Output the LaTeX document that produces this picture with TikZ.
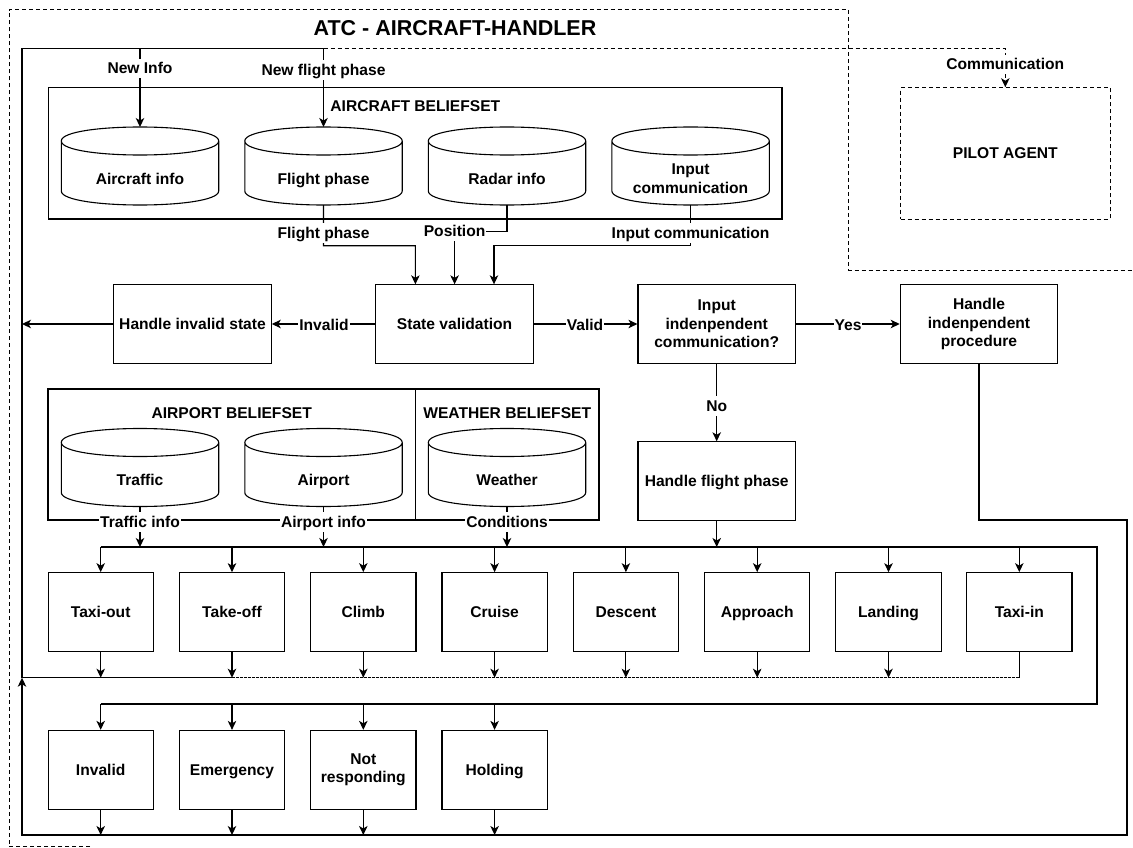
\documentclass[tikz,border=0pt]{standalone}
\usepackage{fontspec}
\setmainfont{Liberation Sans}
\usetikzlibrary{arrows.meta,calc}
\newcommand\lblfont{\fontsize{15.6}{18.7}\selectfont\bfseries}
\newcommand\dbcyl[1]{%
  \coordinate (#1-top) at ([shift={(0,-52)}]#1.center);
  \coordinate (#1-bot) at ([shift={(0,26)}]#1.center);
  \draw[ln] ([shift={(-78.7,-38)}]#1.center) -- ([shift={(-78.7,12)}]#1.center)
     .. controls +(0,18.67) and +(0,18.67) .. ([shift={(78.7,12)}]#1.center)
     -- ([shift={(78.7,-38)}]#1.center)
     .. controls +(0,-18.67) and +(0,-18.67) .. ([shift={(-78.7,-38)}]#1.center)
     .. controls +(0,18.67) and +(0,18.67) .. ([shift={(78.7,-38)}]#1.center);
}
\begin{document}
\begin{tikzpicture}[x=1pt,y=-1pt,
  ln/.style={line width=1.1pt},
  bus/.style={line width=2pt},
  dsh/.style={line width=1pt, dash pattern=on 4pt off 3pt},
  tip/.style={-{Stealth[length=9pt,width=8.5pt,inset=2.5pt]}},
  arr/.style={ln, tip},
  one/.style={text height=14.1pt, text depth=3.3pt},
  procbox/.style={draw, line width=1.1pt, minimum width=157.5pt, minimum height=78.3pt, align=center, inner sep=1pt, font=\lblfont},
  phasebox/.style={procbox, minimum width=105.3pt, minimum height=79pt},
  setbox/.style={draw, line width=1.1pt, inner sep=0pt},
  hdr/.style={font=\lblfont, inner sep=0pt, one},
  lab/.style={fill=white, font=\lblfont, inner sep=1pt, one},
  cyltext/.style={font=\lblfont, align=center, inner sep=0pt},
]
\useasboundingbox (0,0) rectangle (1133,848);

% outer dashed frame
\draw[dsh] (90,846.5) -- (9,846.5) -- (9,10) -- (848,10) -- (848,270) -- (1133,270);
\node[font=\fontsize{21.5}{25}\selectfont\bfseries, inner sep=0pt] (title) at (455,28.5) {ATC - AIRCRAFT-HANDLER};

% containers
\node[setbox, minimum width=733.3pt, minimum height=131.3pt] (acbs) at (415.35,153.35) {};
\node[hdr] (acbsT) at (415.35,106) {AIRCRAFT BELIEFSET};
\node[setbox, minimum width=367.4pt, minimum height=131pt] (apbs) at (231.7,454.5) {};
\node[hdr] (apbsT) at (231.7,413.3) {AIRPORT BELIEFSET};
\node[setbox, minimum width=183.6pt, minimum height=131pt] (wbs) at (507.2,454.5) {};
\node[hdr] (wbsT) at (507.2,413.3) {WEATHER BELIEFSET};
\node[setbox, dsh, minimum width=209.4pt, minimum height=131.3pt, font=\lblfont] (pilot) at (1005.3,153.35) {PILOT AGENT};

% cylinders
\node[cyltext, one] (cAI) at (140,179) {Aircraft info};
\node[cyltext, one] (cFP) at (323.5,179) {Flight phase};
\node[cyltext, one] (cRI) at (507,179) {Radar info};
\node[cyltext] (cIC) at (690.6,179) {Input\\communication};
\node[cyltext, one] (cTR) at (140,480.5) {Traffic};
\node[cyltext, one] (cAP) at (323.5,480.5) {Airport};
\node[cyltext, one] (cWE) at (507,480.5) {Weather};
\dbcyl{cAI}\dbcyl{cFP}\dbcyl{cRI}\dbcyl{cIC}\dbcyl{cTR}\dbcyl{cAP}\dbcyl{cWE}

% process boxes
\node[procbox, one] (hinv) at (192.5,324) {Handle invalid state};
\node[procbox, one] (sv) at (454.6,324) {State validation};
\node[procbox] (iic) at (716.7,324) {Input\\indenpendent\\communication?};
\node[procbox] (hip) at (979,324) {Handle\\indenpendent\\procedure};
\node[procbox, one] (hfp) at (716.7,481) {Handle flight phase};

% phase boxes
\node[phasebox, one] (tout) at (100.7,612.2) {Taxi-out};
\node[phasebox, one] (toff) at (232,612.2) {Take-off};
\node[phasebox, one] (clb) at (363.3,612.2) {Climb};
\node[phasebox, one] (crz) at (494.6,612.2) {Cruise};
\node[phasebox, one] (des) at (625.9,612.2) {Descent};
\node[phasebox, one] (app) at (757.2,612.2) {Approach};
\node[phasebox, one] (lnd) at (888.5,612.2) {Landing};
\node[phasebox, one] (tin) at (1019.3,612.2) {Taxi-in};
\node[phasebox, one] (inv) at (100.7,769.9) {Invalid};
\node[phasebox, one] (emg) at (232,769.9) {Emergency};
\node[phasebox] (nrs) at (363.3,769.9) {Not\\responding};
\node[phasebox, one] (hld) at (494.6,769.9) {Holding};

% named corner points
\coordinate (fTL) at (22,48.7);
\coordinate (fBL) at (22,677.7);
\coordinate (fSplit) at (232,677.7);
\coordinate (lBL) at (22,835);
\coordinate (lBR) at (1127,835);
\coordinate (lTR) at (1127,520);
\coordinate (busTL) at (100.7,547);
\coordinate (busTR) at (1097,547);
\coordinate (busBR) at (1097,703.5);
\coordinate (busBL) at (100.7,703.5);
\coordinate (topFP) at (323.5,48.7);
\coordinate (topNI) at (140,48.7);
\coordinate (comC) at (1005.3,48.7);

% return loop and top distribution
\draw[ln] (tin.south) -- (tin.south |- fBL);
\draw[ln, dash pattern=on 3pt off 1pt] (tin.south |- fBL) -- (fSplit);
\draw[arr] (fSplit) -- (fBL) -- (fTL) -- (topFP) -- (cFP-top);
\draw[arr] (topNI) -- (cAI-top);
\draw[dsh, tip] (topFP) -- (comC) -- (pilot.north);

% phase arrows
\foreach \nm in {tout,toff,clb,crz,des,app,lnd} \draw[arr] (\nm.south) -- (\nm.south |- fBL);
\foreach \nm in {inv,emg,nrs,hld} \draw[arr] (\nm.south) -- (\nm.south |- lBL);
\draw[bus] (busTL) -- (busTR) -- (busBR) -- (busBL);
\foreach \nm in {tout,toff,clb,crz,des,app,lnd,tin} \draw[arr] (\nm.north |- busTL) -- (\nm.north);
\foreach \nm in {inv,emg,nrs,hld} \draw[arr] (\nm.north |- busBL) -- (\nm.north);
\draw[arr] (hfp.south) -- (hfp.south |- busTL);

% big outer loop
\draw[arr] (hip.south) -- (hip.south |- lTR) -- (lTR) -- (lBR) -- (lBL) -- (fBL);

% main flow
\draw[arr] (sv.west) -- (hinv.east);
\draw[arr] (hinv.west) -- (hinv.west -| fBL);
\draw[arr] (sv.east) -- (iic.west);
\draw[arr] (iic.east) -- (hip.west);
\draw[arr] (iic.south) -- (hfp.north);

% beliefs into state validation
\draw[arr] (cFP-bot) -- (323.5,245.7) -- (415.4,245.7) -- ([xshift=-39.2pt]sv.north);
\draw[arr] (cRI-bot) -- (507,231.5) -- (454.6,231.5) -- (sv.north);
\draw[arr] (cIC-bot) -- (690.6,245.7) -- (494,245.7) -- ([xshift=39.4pt]sv.north);

% beliefs into bus
\draw[arr] (cTR-bot) -- (cTR-bot |- busTL);
\draw[arr] (cAP-bot) -- (cAP-bot |- busTL);
\draw[arr] (cWE-bot) -- (cWE-bot |- busTL);

% labels
\node[lab] (lNI) at (140,68.3) {New Info};
\node[lab] (lNFP) at (323.5,70) {New flight phase};
\node[lab] (lCom) at (1005.3,64.3) {Communication};
\node[lab] (lFP) at (323.5,233) {Flight phase};
\node[lab] (lPos) at (454.6,231.5) {Position};
\node[lab] (lIC) at (690.6,233) {Input communication};
\node[lab] (lInv) at (324,325) {Invalid};
\node[lab] (lVal) at (585,325) {Valid};
\node[lab] (lYes) at (848,325) {Yes};
\node[lab] (lNo) at (716.7,406) {No};
\node[lab] (lTI) at (140,522) {Traffic info};
\node[lab] (lAI) at (323.5,522) {Airport info};
\node[lab] (lCo) at (507,522) {Conditions};
\end{tikzpicture}
\end{document}
